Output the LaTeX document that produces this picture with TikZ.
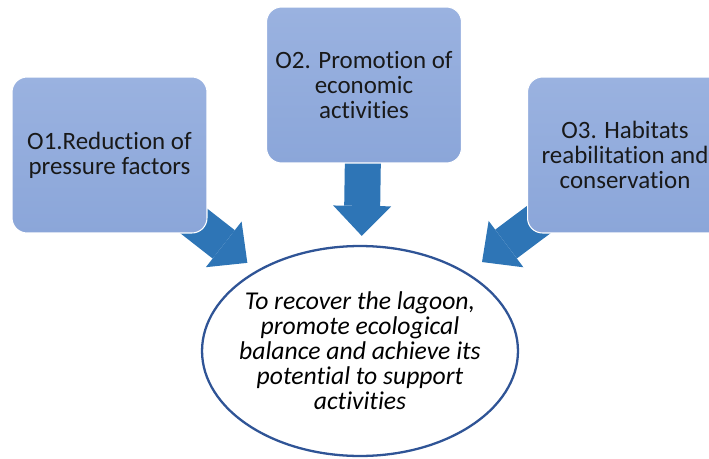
\documentclass[tikz,border=0pt]{standalone}
\usepackage{fontspec}
\setmainfont{Carlito}[Ligatures=NoCommon]
\usepackage{tikz}
\usetikzlibrary{shapes,arrows.meta,positioning,backgrounds}

\definecolor{boxtop}{HTML}{9AB2E0}
\definecolor{boxbot}{HTML}{8BA6D9}
\definecolor{arrowblue}{HTML}{2E75B6}
\definecolor{rimblue}{HTML}{2F5496}

\begin{document}
\begin{tikzpicture}[
  x=0.02cm, y=-0.02cm,
  objbox/.style={draw=white, line width=0.6pt, rounded corners=0.3cm,
               top color=boxtop, bottom color=boxbot, minimum width=3.9cm,
               minimum height=3.12cm, align=center, text=black!90,
               font=\fontsize{14.2}{14.2}\selectfont},
  goalell/.style={draw=rimblue, ellipse, line width=1.3pt, fill=white,
              minimum width=6.32cm, minimum height=4.2cm, inner xsep=-0.3cm,
              inner ysep=0pt, align=center, font=\fontsize{14.6}{14.2}\selectfont\itshape},
  bigarr/.style={-{Triangle[length=0.6cm, width=1.16cm, line width=0pt]},
               line width=0.72cm, draw=arrowblue}
]
\useasboundingbox (0,0) rectangle (709,459);

\node[objbox] (o1) at (109.5,155) {O1.Reduction of\\pressure factors};
\node[objbox] (o2) at (364,85)    {O2. Promotion of\\economic\\activities};
\node[objbox] (o3) at (625,155)   {O3. Habitats\\reabilitation and\\conservation};
\node[goalell] (goal) at (360,351) {To recover the lagoon,\\promote ecological\\balance and achieve its\\potential to support\\activities};

\begin{scope}[on background layer]
\draw[bigarr, shorten >=0.24cm] (o1.center) -- (goal);
\draw[bigarr, shorten >=0.18cm] (o2.center) -- (goal);
\draw[bigarr, shorten >=0.36cm] (o3.center) -- (goal.36);
\end{scope}

\end{tikzpicture}
\end{document}
